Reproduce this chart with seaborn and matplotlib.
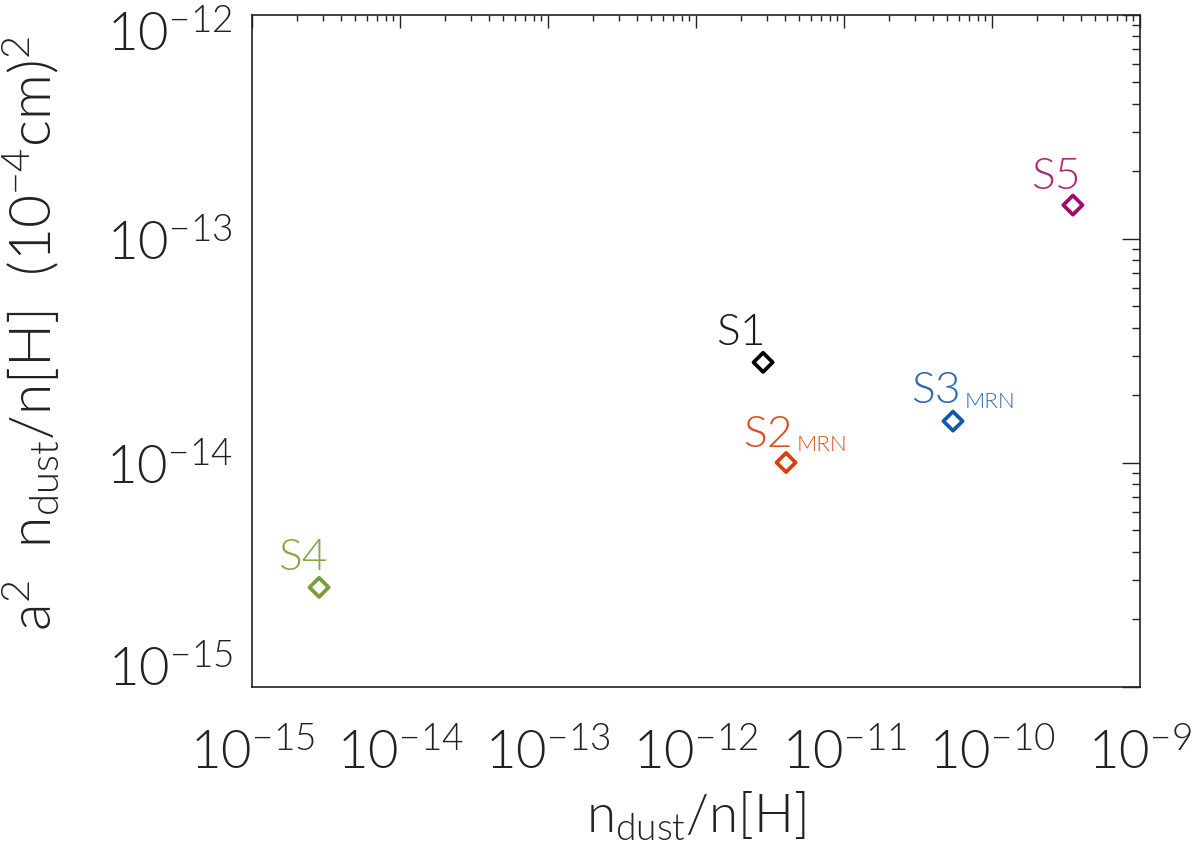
import matplotlib
matplotlib.use("Agg")
import matplotlib.pyplot as plt
import matplotlib.ticker as mticker
import matplotlib.transforms as mtransforms
import seaborn as sns
import pandas as pd
import numpy as np

# ---- data ----
names = ["S1", "S2", "S3", "S4", "S5"]
subscripts = ["", "MRN", "MRN", "", ""]
ndust = [2.84e-12, 4.06e-12, 5.45e-11, 2.84e-15, 3.52e-10]
a2ndust = [2.80e-14, 1.00e-14, 1.53e-14, 2.77e-15, 1.41e-13]
colors = ["#000000", "#d4440e", "#1458a8", "#7a9e3a", "#a00c6c"]
label_colors = ["#1a1a1a", "#d8501e", "#2a68b4", "#86a848", "#a82a7a"]
xlim = (1e-15, 1e-9)
ylim = (1e-15, 1e-12)

sns.set_theme(style="white")
plt.rcParams["font.family"] = ["Lato", "DejaVu Sans"]
plt.rcParams["font.weight"] = 300
plt.rcParams["axes.labelweight"] = 300
plt.rcParams["mathtext.fontset"] = "custom"
plt.rcParams["mathtext.rm"] = "Lato:weight=300"
plt.rcParams["mathtext.it"] = "Lato:weight=300"
plt.rcParams["mathtext.bf"] = "Lato"
plt.rcParams["mathtext.sf"] = "Lato:weight=300"

TXT = "#222222"

df = pd.DataFrame({"name": names, "x": ndust, "y": a2ndust})

fig = plt.figure(figsize=(12, 8.48), dpi=100)
ax = fig.add_axes([0.21, 1 - 686.5 / 848, 0.74, (686.5 - 14.5) / 848])

sns.scatterplot(data=df, x="x", y="y", hue="name", palette=colors,
                marker="D", s=95, legend=False, ax=ax, zorder=3)
coll = ax.collections[0]
fcs = coll.get_facecolors()
coll.set_edgecolors(fcs)
coll.set_facecolors("none")
coll.set_linewidths(2.7)

ax.set_xscale("log")
ax.set_yscale("log")
ax.set_xlim(*xlim)
ax.set_ylim(*ylim)

# point labels (offsets in points: label baseline above the marker)
offsets = [(-15.8, 12.2), (-13.0, 11.5), (-12.2, 13.0), (-12.0, 12.2), (-12.0, 11.5)]
for lab, sub, xv, yv, c, off in zip(names, subscripts, ndust, a2ndust,
                                    label_colors, offsets):
    t = ax.annotate(lab, (xv, yv), xytext=off, textcoords="offset points",
                    ha="center", va="baseline", fontsize=32, color=c)
    if sub:
        ax.annotate(sub, xy=(1, 0), xycoords=t, xytext=(2.5, 2.5),
                    textcoords="offset points", ha="left", va="baseline",
                    fontsize=16, color=c)

def fmt(v, pos):
    e = int(round(np.log10(v)))
    return r"$\mathrm{10}^{\mathrm{-%d}}$" % (-e)

for axis in (ax.xaxis, ax.yaxis):
    axis.set_major_locator(mticker.LogLocator(base=10, numticks=20))
    axis.set_minor_locator(mticker.LogLocator(base=10, subs=np.arange(2, 10), numticks=20))
    axis.set_minor_formatter(mticker.NullFormatter())
ax.xaxis.set_major_formatter(mticker.FuncFormatter(fmt))
ax.yaxis.set_major_formatter(mticker.NullFormatter())

ax.tick_params(which="both", direction="in", top=True, right=True,
               color="#222222", width=1.0)
ax.tick_params(axis="x", which="major", length=9.5)
ax.tick_params(axis="x", which="minor", length=4.5)
ax.tick_params(axis="y", which="major", length=13)
ax.tick_params(axis="y", which="minor", length=5.8)
ax.tick_params(axis="x", which="major", labelsize=38, pad=30, labelcolor=TXT)

# y tick labels, drawn at the major tick positions (IDL style: end labels kept inside)
ytr = mtransforms.blended_transform_factory(ax.transAxes, ax.transData)
lo, hi = np.log10(ylim[0]), np.log10(ylim[1])
for v in ax.get_yticks():
    lv = np.log10(v)
    if lv < lo - 1e-6 or lv > hi + 1e-6:
        continue
    if abs(lv - hi) < 1e-6:
        dy = -27
    elif abs(lv - lo) < 1e-6:
        dy = 0
    else:
        dy = -16
    tr = mtransforms.offset_copy(ytr, fig=fig, x=-14, y=dy, units="points")
    ax.text(0, v, fmt(v, None), transform=tr, ha="right", va="baseline",
            fontsize=38, color=TXT)

for sp in ax.spines.values():
    sp.set_color("#222222")
    sp.set_linewidth(1.2)

ax.set_xlabel(r"n$_{\mathrm{dust}}$/n[H]", fontsize=38, color=TXT)
ax.set_ylabel(r"a$^{\mathrm{2}}$  n$_{\mathrm{dust}}$/n[H]  (10$^{\mathrm{-4}}$cm)$^{\mathrm{2}}$",
              fontsize=41, color=TXT)
ax.xaxis.set_label_coords(0.5, -0.154)
ax.yaxis.set_label_coords(-0.214, 0.526)

fig.savefig("out.png", dpi=100)
